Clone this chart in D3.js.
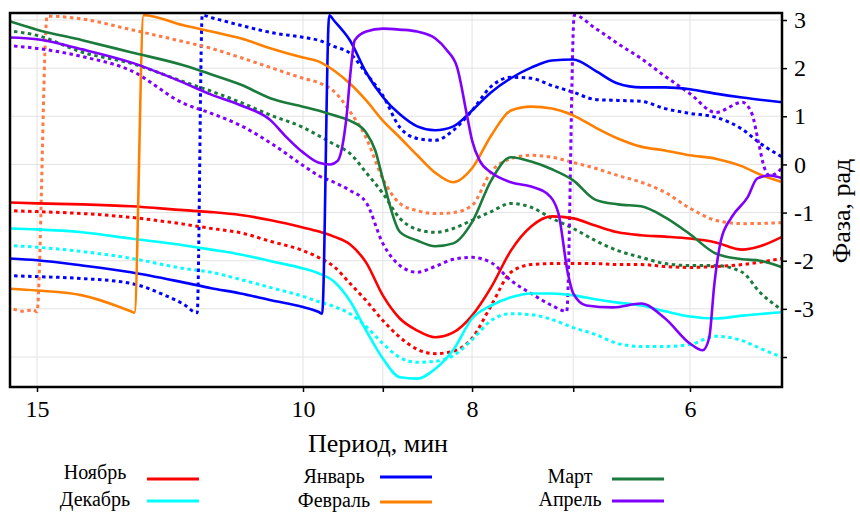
<!DOCTYPE html>
<html><head><meta charset="utf-8">
<script src="https://cdn.jsdelivr.net/npm/d3@7"></script>
<style>
body{margin:0;background:#fff}
text{font-family:"Liberation Serif","Times New Roman",serif;fill:#000}
</style>
</head><body>
<svg id="chart" width="860" height="512"></svg>
<script>
// ---- data ----
const xTicks = [15, 10, 9, 8, 7, 6];
const xTickLabels = ["15", "10", "", "8", "", "6"];
const yTicks = [3, 2, 1, 0, -1, -2, -3, -4];
const yTickLabels = ["3", "2", "1", "0", "-1", "-2", "-3", ""];
const months = ["Ноябрь", "Декабрь", "Январь", "Февраль", "Март", "Апрель"];
const xTitle = "Период, мин";
const yTitle = "Фаза, рад";

// [period (min), phase (rad)]
const novSolid = [[15.7,-0.79],[15,-0.81],[14,-0.83],[13,-0.87],[12,-0.95],[11.5,-0.99],[11,-1.05],[10.5,-1.16],[10,-1.31],[9.8,-1.39],[9.6,-1.50],[9.4,-1.66],[9.2,-2.04],[9.0,-2.72],[8.8,-3.20],[8.6,-3.45],[8.4,-3.59],[8.2,-3.49],[8.0,-3.14],[7.8,-2.55],[7.6,-1.79],[7.4,-1.29],[7.2,-1.08],[7.0,-1.12],[6.8,-1.27],[6.6,-1.41],[6.4,-1.47],[6.2,-1.50],[6.0,-1.54],[5.8,-1.62],[5.6,-1.77],[5.47,-1.70],[5.31,-1.50]];
const novDot = [[15.7,-0.96],[15,-0.98],[14,-1.02],[13,-1.10],[12,-1.24],[11.5,-1.33],[11,-1.42],[10.5,-1.60],[10,-1.79],[9.8,-1.93],[9.6,-2.12],[9.4,-2.47],[9.2,-2.83],[9.0,-3.24],[8.8,-3.59],[8.6,-3.84],[8.4,-3.93],[8.2,-3.88],[8.0,-3.61],[7.8,-2.93],[7.6,-2.24],[7.4,-2.08],[7.2,-2.06],[7.0,-2.06],[6.8,-2.06],[6.6,-2.08],[6.4,-2.08],[6.2,-2.12],[6.0,-2.14],[5.8,-2.12],[5.6,-2.08],[5.31,-1.95]];
const decSolid = [[15.7,-1.33],[15,-1.35],[14,-1.41],[13,-1.54],[12,-1.68],[11.5,-1.77],[11,-1.87],[10.5,-2.01],[10,-2.16],[9.8,-2.26],[9.6,-2.43],[9.4,-2.83],[9.2,-3.45],[9.0,-4.03],[8.8,-4.42],[8.6,-4.45],[8.4,-4.25],[8.2,-3.85],[8.0,-3.20],[7.8,-2.93],[7.6,-2.76],[7.4,-2.68],[7.2,-2.68],[7.0,-2.72],[6.8,-2.80],[6.6,-2.87],[6.4,-2.93],[6.2,-3.05],[6.0,-3.16],[5.8,-3.20],[5.6,-3.14],[5.31,-3.07]];
const decDot = [[15.7,-1.68],[15,-1.72],[14,-1.81],[13,-1.95],[12,-2.16],[11.5,-2.24],[11,-2.39],[10.5,-2.56],[10,-2.74],[9.8,-2.85],[9.6,-2.95],[9.4,-3.10],[9.2,-3.37],[9.0,-3.72],[8.8,-4.01],[8.6,-4.11],[8.4,-4.09],[8.2,-3.97],[8.0,-3.64],[7.8,-3.24],[7.6,-3.10],[7.4,-3.12],[7.2,-3.22],[7.0,-3.39],[6.8,-3.53],[6.6,-3.72],[6.4,-3.78],[6.2,-3.78],[6.0,-3.74],[5.8,-3.57],[5.6,-3.66],[5.47,-3.82],[5.31,-4.01]];
const janSolid = [[15.7,-1.95],[15,-1.99],[14,-2.10],[13,-2.24],[12,-2.45],[11.5,-2.57],[11,-2.68],[10.5,-2.82],[10,-2.96],[9.8,-3.06],[9.75,-3.10],[9.66,3.10],[9.6,2.99],[9.4,2.58],[9.2,1.91],[9.0,1.40],[8.8,1.04],[8.6,0.79],[8.4,0.71],[8.2,0.79],[8.0,1.12],[7.8,1.50],[7.6,1.79],[7.4,2.01],[7.2,2.16],[7.0,2.18],[6.8,1.95],[6.6,1.68],[6.4,1.60],[6.2,1.60],[6.0,1.56],[5.8,1.47],[5.6,1.39],[5.31,1.29]];
const janDot = [[15.7,-2.31],[15,-2.33],[14,-2.37],[13,-2.47],[12.34,-2.72],[12,-2.90],[11.75,-3.08],[11.66,3.10],[11.5,3.05],[11,2.89],[10.5,2.74],[10,2.64],[9.8,2.58],[9.6,2.45],[9.4,2.31],[9.2,1.89],[9.0,1.43],[8.8,0.77],[8.6,0.54],[8.4,0.50],[8.2,0.71],[8.0,1.12],[7.8,1.62],[7.6,1.81],[7.4,1.79],[7.2,1.64],[7.0,1.50],[6.8,1.35],[6.6,1.33],[6.4,1.31],[6.2,1.16],[6.0,1.06],[5.8,0.98],[5.6,0.73],[5.47,0.44],[5.31,0.15]];
const febSolid = [[15.7,-2.58],[15,-2.62],[14,-2.72],[13.2,-2.97],[13,-3.05],[12.93,-3.08],[12.75,3.10],[12,2.89],[11.5,2.76],[11,2.62],[10.5,2.41],[10,2.22],[9.8,2.14],[9.6,1.95],[9.4,1.68],[9.2,1.33],[9.0,0.91],[8.8,0.56],[8.6,0.19],[8.4,-0.17],[8.2,-0.37],[8.0,-0.08],[7.8,0.60],[7.6,1.12],[7.4,1.20],[7.2,1.16],[7.0,1.02],[6.8,0.77],[6.6,0.54],[6.4,0.37],[6.2,0.29],[6.0,0.19],[5.8,0.12],[5.6,-0.04],[5.47,-0.21],[5.31,-0.37]];
const febDot = [[15.7,-2.95],[15.3,-3.05],[15.09,-3.02],[15.0,-3.06],[14.77,3.08],[14,3.02],[13,2.80],[12,2.55],[11.5,2.41],[11,2.22],[10.5,2.01],[10,1.79],[9.8,1.70],[9.6,1.52],[9.4,1.10],[9.2,0.55],[9.0,-0.30],[8.8,-0.81],[8.6,-0.96],[8.4,-1.02],[8.2,-1.00],[8.0,-0.85],[7.8,-0.15],[7.6,0.12],[7.4,0.19],[7.2,0.15],[7.0,0.04],[6.8,-0.08],[6.6,-0.23],[6.4,-0.37],[6.2,-0.58],[6.0,-0.91],[5.8,-1.16],[5.6,-1.23],[5.31,-1.21]];
const marSolid = [[15.7,2.99],[15,2.80],[14,2.58],[13,2.33],[12,2.06],[11.5,1.87],[11,1.66],[10.5,1.37],[10,1.20],[9.8,1.12],[9.6,1.02],[9.4,0.91],[9.2,0.66],[9.09,0.29],[9.0,-0.30],[8.8,-1.40],[8.6,-1.58],[8.4,-1.70],[8.2,-1.64],[8.0,-1.20],[7.8,-0.33],[7.6,0.15],[7.4,0.06],[7.2,-0.10],[7.0,-0.33],[6.8,-0.73],[6.6,-0.83],[6.4,-0.87],[6.2,-1.10],[6.0,-1.45],[5.8,-1.85],[5.6,-1.97],[5.47,-2.00],[5.31,-2.14]];
const marDot = [[15.7,2.78],[15,2.68],[14,2.33],[13,2.10],[12,1.72],[11.5,1.52],[11,1.29],[10.5,1.02],[10,0.77],[9.8,0.60],[9.6,0.42],[9.4,0.23],[9.2,-0.17],[9.0,-0.60],[8.8,-1.12],[8.6,-1.35],[8.4,-1.41],[8.2,-1.33],[8.0,-1.16],[7.8,-0.98],[7.6,-0.81],[7.4,-0.89],[7.2,-1.12],[7.0,-1.33],[6.8,-1.58],[6.6,-1.79],[6.4,-1.93],[6.2,-2.06],[6.0,-2.10],[5.8,-2.10],[5.6,-2.24],[5.47,-2.66],[5.31,-3.03]];
const aprSolid = [[15.7,2.64],[15,2.60],[14,2.39],[13,2.12],[12,1.70],[11.5,1.45],[11,1.23],[10.5,0.91],[10.28,0.60],[10,0.25],[9.8,0.04],[9.65,0.0],[9.55,0.08],[9.5,0.33],[9.44,1.02],[9.39,1.95],[9.34,2.58],[9.2,2.76],[9.0,2.82],[8.8,2.80],[8.6,2.76],[8.4,2.62],[8.27,2.37],[8.16,2.02],[8.05,0.98],[8.0,0.50],[7.92,0.08],[7.8,-0.17],[7.6,-0.37],[7.4,-0.46],[7.25,-0.60],[7.14,-1.00],[7.05,-2.26],[7.0,-2.68],[6.88,-2.93],[6.64,-2.97],[6.4,-2.89],[6.2,-3.20],[6.0,-3.72],[5.9,-3.86],[5.85,-3.60],[5.81,-2.48],[5.76,-1.58],[5.68,-1.10],[5.56,-0.68],[5.49,-0.29],[5.4,-0.23],[5.31,-0.29]];
const aprDot = [[15.7,2.47],[15,2.41],[14,2.24],[13,1.95],[12,1.27],[11.5,1.06],[11,0.81],[10.5,0.44],[10,-0.02],[9.8,-0.23],[9.6,-0.37],[9.4,-0.54],[9.2,-0.79],[9.0,-1.64],[8.8,-2.10],[8.6,-2.24],[8.4,-2.12],[8.2,-1.97],[8.0,-1.93],[7.8,-2.04],[7.6,-2.41],[7.4,-2.68],[7.2,-2.93],[7.06,-3.05],[6.99,3.10],[6.8,2.83],[6.6,2.51],[6.4,2.20],[6.2,1.83],[6.0,1.47],[5.8,1.08],[5.6,1.29],[5.53,1.06],[5.48,0.44],[5.44,-0.06],[5.4,-0.23],[5.33,-0.12],[5.31,-0.05]];

const solidSeries = [novSolid, decSolid, janSolid, febSolid, marSolid, aprSolid];
const dotSeries = [novDot, decDot, janDot, febDot, marDot, aprDot];
const solidColors = ["#ff0000", "#00ffff", "#0000ff", "#ff8000", "#1b7b3c", "#8000ff"];
const dotColors = ["#ff0000", "#00ffff", "#0000ff", "#ff7a45", "#1b7b3c", "#8000ff"];

// ---- layout ----
const L = 10, R = 782, T = 13, B = 387;
const svg = d3.select("#chart");
const x = d3.scaleLog().domain([15, 10, 6]).range([37, 303, 690]);
const y = d3.scaleLinear().domain([3, -4]).range([20, 357]);

svg.append("defs").append("clipPath").attr("id", "clip")
  .append("rect").attr("x", L).attr("y", T).attr("width", R - L).attr("height", B - T);

// grid
const grid = svg.append("g");
grid.selectAll(".vg").data(xTicks).join("line")
  .attr("x1", d => x(d)).attr("x2", d => x(d)).attr("y1", T).attr("y2", B)
  .attr("stroke", "#e3e3e3").attr("stroke-width", 1);
grid.selectAll(".hg").data(yTicks).join("line")
  .attr("y1", d => y(d)).attr("y2", d => y(d)).attr("x1", L).attr("x2", R)
  .attr("stroke", "#e3e3e3").attr("stroke-width", 1);

// lines
const line = d3.line().x(d => x(d[0])).y(d => y(d[1])).curve(d3.curveMonotoneX);
const plot = svg.append("g").attr("clip-path", "url(#clip)");
months.forEach((m, i) => {
  plot.append("path").datum(dotSeries[i]).attr("d", line)
    .attr("fill", "none").attr("stroke", dotColors[i]).attr("stroke-width", 3)
    .attr("stroke-dasharray", "3.5,3.5");
});
months.forEach((m, i) => {
  plot.append("path").datum(solidSeries[i]).attr("d", line)
    .attr("fill", "none").attr("stroke", solidColors[i]).attr("stroke-width", 2.6);
});

// frame
svg.append("rect").attr("x", L).attr("y", T).attr("width", R - L).attr("height", B - T)
  .attr("fill", "none").attr("stroke", "#000").attr("stroke-width", 2.5);

// bottom axis
const xAxis = d3.axisBottom(x).tickValues(xTicks).tickSize(5).tickPadding(8)
  .tickFormat((d, i) => xTickLabels[i]);
const gx = svg.append("g").attr("transform", `translate(0,${B})`).call(xAxis);
gx.select(".domain").remove();
gx.selectAll("line").attr("stroke", "#000").attr("stroke-width", 1.5);
gx.selectAll("text").attr("font-size", 24).attr("font-family", "Liberation Serif").attr("fill", "#000");

// right axis
const yAxis = d3.axisRight(y).tickValues(yTicks).tickSize(5).tickPadding(7)
  .tickFormat((d, i) => yTickLabels[i]);
const gy = svg.append("g").attr("transform", `translate(${R},0)`).call(yAxis);
gy.select(".domain").remove();
gy.selectAll("line").attr("stroke", "#000").attr("stroke-width", 1.5);
gy.selectAll("text").attr("font-size", 24).attr("font-family", "Liberation Serif").attr("fill", "#000");

// titles
svg.append("text").attr("x", 378).attr("y", 452).attr("text-anchor", "middle")
  .attr("font-size", 26).text(xTitle);
svg.append("text").attr("transform", "translate(850,211) rotate(-90)")
  .attr("text-anchor", "middle").attr("font-size", 26).text(yTitle);

// legend
const legCenters = [95, 334, 570];
const legLineX = [147, 380, 612];
const legTextY = [[479, 506], [483, 507], [483, 506]];
const legLineY = [[479, 501], [477, 502], [479, 501]];
months.forEach((m, i) => {
  const col = Math.floor(i / 2), row = i % 2;
  svg.append("text").attr("x", legCenters[col]).attr("y", legTextY[col][row])
    .attr("text-anchor", "middle").attr("font-size", 20).text(m);
  svg.append("line").attr("x1", legLineX[col]).attr("x2", legLineX[col] + 52)
    .attr("y1", legLineY[col][row]).attr("y2", legLineY[col][row])
    .attr("stroke", solidColors[i]).attr("stroke-width", 3);
});
</script>
</body></html>
